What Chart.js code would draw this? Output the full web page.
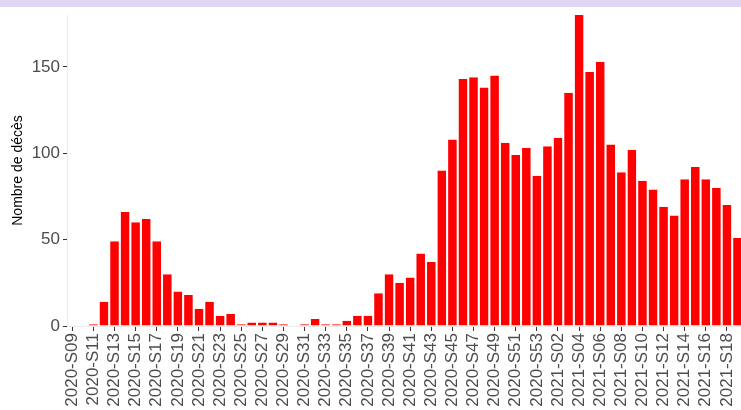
<!DOCTYPE html>
<html>
<head>
<meta charset="utf-8">
<script src="https://cdn.jsdelivr.net/npm/chart.js@4/dist/chart.umd.min.js"></script>
<style>
  html, body { margin: 0; padding: 0; background: #fff; overflow: hidden; width: 741px; height: 410px; }
  #band { position: absolute; left: 0; top: 0; width: 741px; height: 7px; background: #e0d7f4; z-index: 2; }
  #wrap { position: absolute; left: 0; top: 0; width: 760px; height: 410px; }
</style>
</head>
<body>
<div id="band"></div>
<div id="wrap"><canvas id="deaths"></canvas></div>
<script>
// semaines ISO, 2020-S09 a 2021-S19
const weeks = [
  '2020-S09', '2020-S10', '2020-S11', '2020-S12', '2020-S13', '2020-S14', '2020-S15', '2020-S16',
  '2020-S17', '2020-S18', '2020-S19', '2020-S20', '2020-S21', '2020-S22', '2020-S23', '2020-S24',
  '2020-S25', '2020-S26', '2020-S27', '2020-S28', '2020-S29', '2020-S30', '2020-S31', '2020-S32',
  '2020-S33', '2020-S34', '2020-S35', '2020-S36', '2020-S37', '2020-S38', '2020-S39', '2020-S40',
  '2020-S41', '2020-S42', '2020-S43', '2020-S44', '2020-S45', '2020-S46', '2020-S47', '2020-S48',
  '2020-S49', '2020-S50', '2020-S51', '2020-S52', '2020-S53', '2021-S01', '2021-S02', '2021-S03',
  '2021-S04', '2021-S05', '2021-S06', '2021-S07', '2021-S08', '2021-S09', '2021-S10', '2021-S11',
  '2021-S12', '2021-S13', '2021-S14', '2021-S15', '2021-S16', '2021-S17', '2021-S18', '2021-S19'
];

const deaths = [
  0, 0, 1, 14, 49, 66, 60, 62,
  49, 30, 20, 18, 10, 14, 6, 7,
  1, 2, 2, 2, 1, 0, 1, 4,
  1, 1, 3, 6, 6, 19, 30, 25,
  28, 42, 37, 90, 108, 143, 144, 138,
  145, 106, 99, 103, 87, 104, 109, 135,
  180, 147, 153, 105, 89, 102, 84, 79,
  69, 64, 85, 92, 85, 80, 70, 51
];

const yTicks = [0, 50, 100, 150];
const yMax = 180;

const FONT = "'Liberation Sans', Arial, sans-serif";

const ctx = document.getElementById('deaths').getContext('2d');
new Chart(ctx, {
  type: 'bar',
  data: {
    labels: weeks,
    datasets: [{
      label: 'Nombre de décès',
      data: deaths,
      backgroundColor: '#ff0000',
      borderColor: 'rgba(255,255,255,0.35)',
      borderWidth: { left: 0.5, right: 0.5, top: 0, bottom: 0 },
      barPercentage: 0.9,
      categoryPercentage: 1.0
    }]
  },
  options: {
    responsive: true,
    maintainAspectRatio: false,
    animation: false,
    layout: { padding: { top: 15, left: 0, right: 14.6, bottom: 0 } },
    plugins: {
      legend: { display: false },
      tooltip: { enabled: false }
    },
    scales: {
      x: {
        offset: true,
        grid: {
          offset: false,
          drawOnChartArea: false,
          drawTicks: true,
          tickLength: 5,
          tickColor: (c) => (c.index % 2 === 0 ? '#333333' : 'rgba(0,0,0,0)')
        },
        border: { display: true, color: '#ebebeb', width: 1 },
        ticks: {
          autoSkip: false,
          minRotation: 90,
          maxRotation: 90,
          padding: 2,
          color: '#4d4d4d',
          font: { family: FONT, size: 17 },
          callback: function (value, index) {
            return index % 2 === 0 ? this.getLabelForValue(value) : '';
          }
        },
        afterFit: (scale) => { scale.height = 84; }
      },
      y: {
        min: 0,
        max: yMax,
        afterBuildTicks: (scale) => { scale.ticks = yTicks.map(v => ({ value: v })); },
        grid: {
          drawOnChartArea: false,
          drawTicks: true,
          tickLength: 4,
          tickColor: '#333333'
        },
        border: { display: true, color: '#ebebeb', width: 1 },
        ticks: {
          padding: 3,
          color: '#4d4d4d',
          font: { family: FONT, size: 17 }
        },
        title: {
          display: true,
          text: 'Nombre de décès',
          color: '#000000',
          padding: { top: 10, bottom: 0 },
          font: { family: FONT, size: 14 }
        },
        afterFit: (scale) => { scale.width = 67; }
      }
    }
  }
});
</script>
</body>
</html>
